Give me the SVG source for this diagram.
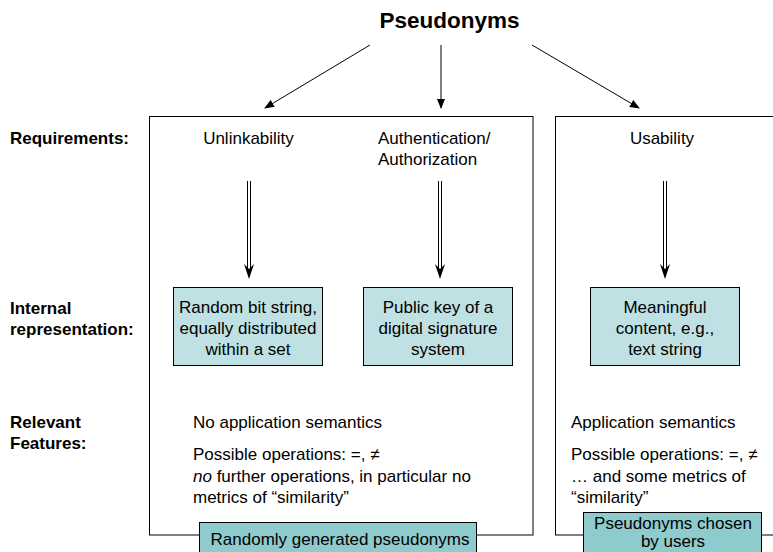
<svg xmlns="http://www.w3.org/2000/svg" width="773" height="552" viewBox="0 0 773 552">
  <style>
    text { font-family: "Liberation Sans", Arial, sans-serif; font-size: 17px; fill: #000; }
    .title { font-size: 22.5px; font-weight: bold; }
    .label { font-weight: bold; }
    .mid { text-anchor: middle; }
    .frame { fill: #fff; stroke: #000; stroke-width: 1; }
    .rep { fill: #bfe1e3; stroke: #000; stroke-width: 1; }
    .tag { fill: #8ecbcd; stroke: #000; stroke-width: 1; }
    .thin { stroke: #000; stroke-width: 1; fill: none; }
    .dbl { stroke: #000; stroke-width: 1; fill: none; }
  </style>
  <defs>
    <marker id="tip" markerWidth="10" markerHeight="8" refX="9" refY="4" orient="auto" markerUnits="userSpaceOnUse">
      <path d="M0,0 L10,4 L0,8 Z" fill="#000"/>
    </marker>
    <path id="dblhead" d="M-5,-15 L0,0 L5,-15 L0,-10 Z" fill="#000"/>
  </defs>

  <rect width="773" height="552" fill="#fff"/>

  <!-- column frames -->
  <g id="frame-random">
    <rect class="frame" x="149.5" y="116.5" width="383.5" height="418.5"/>
  </g>
  <g id="frame-chosen">
    <rect class="frame" x="555.5" y="116.5" width="230" height="418.5"/>
  </g>

  <!-- title -->
  <g id="title">
    <text class="title mid" x="449.5" y="28">Pseudonyms</text>
  </g>

  <!-- row labels -->
  <g id="row-labels">
    <text class="label" x="10" y="144">Requirements:</text>
    <text class="label" x="10" y="314">Internal</text>
    <text class="label" x="10" y="335">representation:</text>
    <text class="label" x="10" y="428">Relevant</text>
    <text class="label" x="10" y="449">Features:</text>
  </g>

  <!-- requirements -->
  <g id="req-unlinkability">
    <text class="mid" x="248.5" y="144">Unlinkability</text>
  </g>
  <g id="req-authentication">
    <text x="378" y="144">Authentication/</text>
    <text x="378" y="165">Authorization</text>
  </g>
  <g id="req-usability">
    <text class="mid" x="662" y="144">Usability</text>
  </g>

  <!-- internal representations -->
  <g id="rep-random">
    <rect class="rep" x="173.5" y="287.5" width="149" height="78"/>
    <text class="mid" x="248" y="313">Random bit string,</text>
    <text class="mid" x="248" y="334">equally distributed</text>
    <text class="mid" x="248" y="355">within a set</text>
  </g>
  <g id="rep-publickey">
    <rect class="rep" x="363.5" y="287.5" width="149" height="78"/>
    <text class="mid" x="438" y="313">Public key of a</text>
    <text class="mid" x="438" y="334">digital signature</text>
    <text class="mid" x="438" y="355">system</text>
  </g>
  <g id="rep-meaningful">
    <rect class="rep" x="590.5" y="287.5" width="149" height="78"/>
    <text class="mid" x="665" y="313">Meaningful</text>
    <text class="mid" x="665" y="334">content, e.g.,</text>
    <text class="mid" x="665" y="355">text string</text>
  </g>

  <!-- relevant features -->
  <g id="features-random">
    <text x="193" y="428">No application semantics</text>
    <text x="193" y="460">Possible operations: =, ≠</text>
    <text x="193" y="482"><tspan font-style="italic">no</tspan> further operations, in particular no</text>
    <text x="193" y="503">metrics of “similarity”</text>
  </g>
  <g id="features-chosen">
    <text x="571" y="428">Application semantics</text>
    <text x="571" y="460">Possible operations: =, ≠</text>
    <text x="571" y="482">… and some metrics of</text>
    <text x="571" y="503">“similarity”</text>
  </g>

  <!-- column tags -->
  <g id="tag-random">
    <rect class="tag" x="199.5" y="522.5" width="277" height="32"/>
    <text class="mid" x="340" y="545">Randomly generated pseudonyms</text>
  </g>
  <g id="tag-chosen">
    <rect class="tag" x="583.5" y="512.5" width="178" height="44"/>
    <text class="mid" x="673" y="529">Pseudonyms chosen</text>
    <text class="mid" x="673" y="547">by users</text>
  </g>

  <!-- connectors -->
  <g id="connectors">
    <line class="thin" x1="370" y1="45" x2="265" y2="108" marker-end="url(#tip)"/>
    <line class="thin" x1="441" y1="45" x2="441" y2="108" marker-end="url(#tip)"/>
    <line class="thin" x1="532" y1="45" x2="639" y2="108" marker-end="url(#tip)"/>

    <path class="dbl" d="M247.5,181 V268 M250.5,181 V268"/>
    <use href="#dblhead" x="249" y="279"/>
    <path class="dbl" d="M438.5,181 V268 M441.5,181 V268"/>
    <use href="#dblhead" x="440" y="279"/>
    <path class="dbl" d="M663.5,181 V268 M666.5,181 V268"/>
    <use href="#dblhead" x="665" y="279"/>
  </g>
</svg>
